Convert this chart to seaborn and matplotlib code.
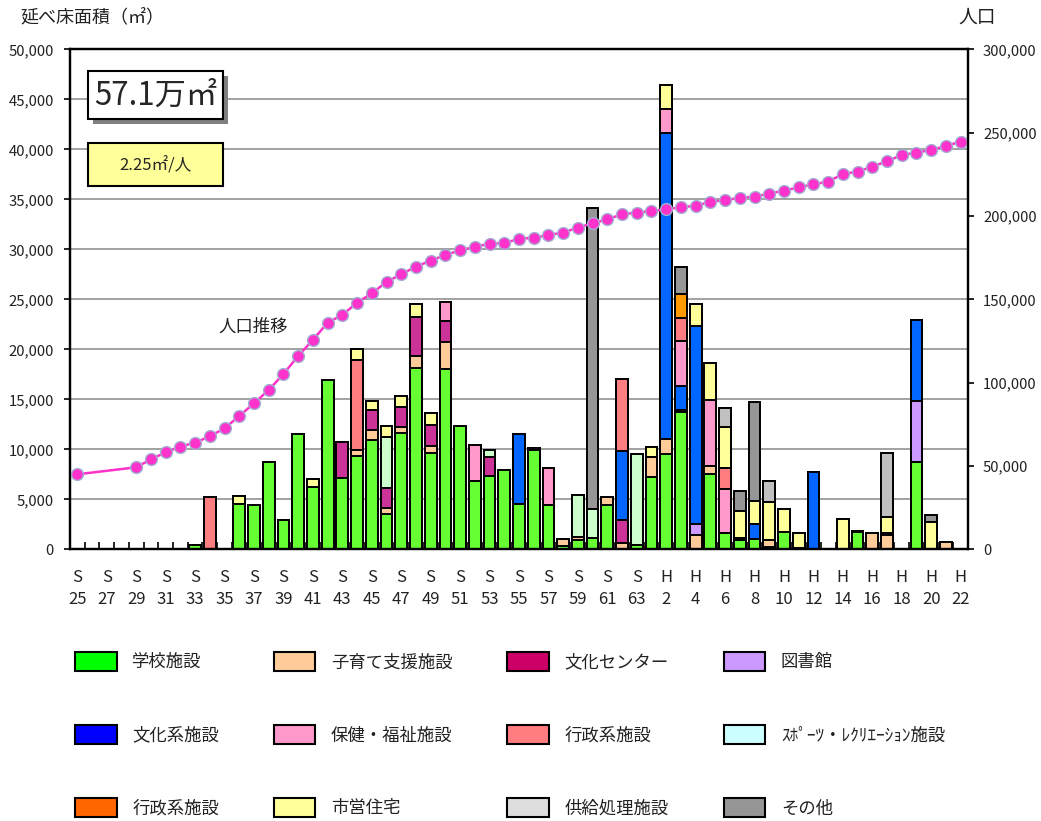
import numpy as np
import pandas as pd
import matplotlib
matplotlib.use("Agg")
import matplotlib.pyplot as plt
from matplotlib.patches import Patch, Rectangle
from matplotlib.ticker import FixedLocator, FuncFormatter
import seaborn as sns

# ---------------- data ----------------
years = [f"S{y}" for y in range(25, 64)] + ["H1"] + [f"H{y}" for y in range(2, 23)]

school = {"S33": 400, "S36": 4530, "S37": 4400, "S38": 8750, "S39": 2900, "S40": 11500,
          "S41": 6230, "S42": 16900, "S43": 7170, "S44": 9300, "S45": 10900, "S46": 3570,
          "S47": 11630, "S48": 18130, "S49": 9630, "S50": 18070, "S51": 12300, "S52": 6830,
          "S53": 7300, "S54": 7900, "S55": 4570, "S56": 9900, "S57": 4470, "S58": 300,
          "S59": 900, "S60": 1130, "S61": 4470, "S63": 470, "H1": 7230, "H2": 9500,
          "H3": 13730, "H5": 7570, "H6": 1630, "H7": 900, "H8": 1070, "H9": 200,
          "H10": 1730, "H11": 170, "H15": 1730, "H19": 8730}
childcare = {"S44": 600, "S45": 1000, "S46": 600, "S47": 600, "S48": 1200, "S49": 670,
             "S50": 2660, "S58": 770, "S59": 330, "S61": 760, "S62": 670, "H1": 1970,
             "H2": 1530, "H4": 1400, "H5": 730, "H9": 770, "H16": 1630, "H17": 1470, "H21": 700}
culture_center = {"S43": 3530, "S45": 2000, "S46": 1960, "S47": 2000, "S48": 3900, "S49": 2100,
                  "S50": 2070, "S53": 1900, "S56": 250, "S62": 2230, "H3": 240, "H7": 200,
                  "H15": 100, "H17": 130}
library = {"H4": 1170, "H19": 6100}
culture = {"S55": 6930, "S62": 6930, "H2": 30600, "H3": 2330, "H4": 19730, "H8": 1500,
           "H12": 7730, "H19": 8140}
welfare = {"S50": 1930, "S52": 3640, "S57": 3660, "H2": 2440, "H3": 4530, "H5": 6600, "H6": 4440}
admin = {"S34": 5200, "S44": 9000, "S62": 7240, "H3": 2340, "H6": 2060}
sports = {"S46": 5100, "S53": 700, "S59": 4170, "S60": 2940, "S63": 9100}
admin2 = {"H3": 2330}
housing = {"S36": 800, "S41": 800, "S44": 1170, "S45": 930, "S46": 1100, "S47": 1100,
           "S48": 1270, "S49": 1230, "H1": 1050, "H2": 2330, "H4": 2200, "H5": 3730,
           "H6": 4100, "H7": 2700, "H8": 2260, "H9": 3760, "H10": 2340, "H11": 1460,
           "H14": 3070, "H17": 1630, "H20": 2730}
supply = {"H6": 1900, "H9": 2070, "H17": 6400}
other = {"S60": 30060, "H3": 2730, "H7": 2030, "H8": 9900, "H20": 670}

population = {"S25": 45000, "S29": 49200, "S30": 54000, "S31": 58200, "S32": 61600,
              "S33": 64000, "S34": 67800, "S35": 72600, "S36": 80000, "S37": 87600,
              "S38": 95600, "S39": 105200, "S40": 116000, "S41": 125600, "S42": 136000,
              "S43": 140600, "S44": 148000, "S45": 153600, "S46": 160400, "S47": 165000,
              "S48": 169600, "S49": 173200, "S50": 176600, "S51": 179400, "S52": 181400,
              "S53": 183400, "S54": 183600, "S55": 186400, "S56": 186800, "S57": 188600,
              "S58": 190000, "S59": 193000, "S60": 195600, "S61": 198000, "S62": 201000,
              "S63": 202000, "H1": 203000, "H2": 204000, "H3": 205200, "H4": 206200,
              "H5": 208400, "H6": 209600, "H7": 210800, "H8": 211600, "H9": 213400,
              "H10": 215200, "H11": 217200, "H12": 219000, "H13": 220600, "H14": 225200,
              "H15": 226600, "H16": 229600, "H17": 232800, "H18": 236600, "H19": 238000,
              "H20": 239600, "H21": 242000, "H22": 244600}

series_names = ["学校施設", "子育て支援施設", "文化センター", "図書館", "文化系施設", "保健・福祉施設",
                "行政系施設", "ｽﾎﾟｰﾂ・ﾚｸﾘｴｰｼｮﾝ施設", "行政系施設 ", "市営住宅", "供給処理施設", "その他"]
series_data = [school, childcare, culture_center, library, culture, welfare,
               admin, sports, admin2, housing, supply, other]
bar_colors = ["#66FF33", "#FFCC99", "#CC3399", "#CC99FF", "#0066FF", "#FF99CC",
              "#FF7C80", "#CCFFCC", "#FF9900", "#FFFF99", "#C0C0C0", "#969696"]
legend_colors = ["#00FF00", "#FFCC99", "#CC0066", "#CC99FF", "#0000FF", "#FF99CC",
                 "#FF7C80", "#CCFFFF", "#FF6600", "#FFFF99", "#DDDDDD", "#969696"]

# ---------------- figure ----------------
sns.set_theme(style="white")
plt.rcParams["font.family"] = ["Noto Sans CJK JP", "DejaVu Sans"]

W, H = 1041, 821
TXT = "#222222"
fig = plt.figure(figsize=(W / 100, H / 100), dpi=100)
ax = fig.add_axes([70 / W, 1 - 549.3 / H, (968 - 70) / W, (549.3 - 49.3) / H])

df = pd.DataFrame({n: pd.Series(d) for n, d in zip(series_names, series_data)})
df = df.reindex(years).fillna(0)
cum = df.cumsum(axis=1)

for name, col in reversed(list(zip(series_names, bar_colors))):
    sns.barplot(x=years, y=cum[name].values, order=years, color=col, saturation=1,
                edgecolor="black", linewidth=1.4, width=0.8, errorbar=None, ax=ax)

ax.set_xlim(-0.5, len(years) - 0.5)
ax.set_ylim(0, 50000)
ax.set_yticks(np.arange(0, 50001, 5000))
ax.yaxis.set_major_formatter(FuncFormatter(lambda v, p: f"{int(v):,}"))
ax.grid(axis="y", color="#9A9A9A", linewidth=1.3)
ax.grid(axis="x", visible=False)
ax.set_axisbelow(True)
ax.set_xlabel("")
ax.set_ylabel("")
for s in ax.spines.values():
    s.set_color("black")
    s.set_linewidth(1.6)

tick_pos = list(range(0, len(years), 2))
tick_lab = [f"{years[i][0]}\n{years[i][1:]}" for i in tick_pos]
ax.set_xticks(tick_pos)
ax.set_xticklabels(tick_lab, fontsize=12, linespacing=1.4, color=TXT)
ax.xaxis.set_minor_locator(FixedLocator(np.arange(0.5, len(years) - 1, 1)))
ax.tick_params(axis="x", which="major", length=0, pad=14)
ax.tick_params(axis="x", which="minor", direction="in", length=5, width=1.2, color="black", bottom=True)
ax.tick_params(axis="y", which="major", labelsize=12, labelcolor=TXT, length=4,
               width=1.2, color="black", left=True, pad=9)

# population line on right axis
ax2 = ax.twinx()
pop_pos = [years.index(k) for k in population]
pop_val = list(population.values())
sns.lineplot(x=pop_pos, y=pop_val, ax=ax2, color="#FF33CC", linewidth=1.8, marker="o",
             markersize=8.5, markerfacecolor="#FF33CC", markeredgecolor="#A0AFD0",
             markeredgewidth=1.0)
ax2.set_ylim(0, 300000)
ax2.set_yticks(np.arange(0, 300001, 50000))
ax2.yaxis.set_major_formatter(FuncFormatter(lambda v, p: f"{int(v):,}"))
ax2.tick_params(axis="y", which="major", labelsize=12, labelcolor=TXT, length=4,
                width=1.2, color="black", right=True, pad=7)
ax2.grid(False)
ax2.set_xlim(-0.5, len(years) - 0.5)
for s in ax2.spines.values():
    s.set_color("black")
    s.set_linewidth(1.6)

# fit y tick label size / position to the reference layout (measured in pixels)
fig.canvas.draw()
rend = fig.canvas.get_renderer()
lab_r = [t for t in ax2.get_yticklabels() if t.get_text() == "300,000"][0]
size = 12 * 54.0 / lab_r.get_window_extent(rend).width
ax.tick_params(axis="y", labelsize=size)
ax2.tick_params(axis="y", labelsize=size)
fig.canvas.draw()
lab_l = [t for t in ax.get_yticklabels() if t.get_text() == "50,000"][0]
lab_r = [t for t in ax2.get_yticklabels() if t.get_text() == "300,000"][0]
x1_l = lab_l.get_window_extent(rend).x1
x0_r = lab_r.get_window_extent(rend).x0
ax.tick_params(axis="y", pad=max(1, 9 + (x1_l - 54) * 0.72))
ax2.tick_params(axis="y", pad=max(1, 7 + (983 - x0_r) * 0.72))

# texts
fig.text(20 / W, 1 - 17 / H, "延べ床面積（㎡）", ha="left", va="center", fontsize=13, color=TXT)
fig.text(958 / W, 1 - 17 / H, "人口", ha="left", va="center", fontsize=13.5, color=TXT)
fig.text(253 / W, 1 - 327 / H, "人口推移", ha="center", va="center", fontsize=12.5, color=TXT)


def px_rect(x0, y0, x1, y1, **kw):
    r = Rectangle((x0 / W, 1 - y1 / H), (x1 - x0) / W, (y1 - y0) / H,
                  transform=fig.transFigure, **kw)
    fig.add_artist(r)


px_rect(93, 76, 228, 124, facecolor="#808080", edgecolor="none", zorder=5)
px_rect(88, 71, 223, 119, facecolor="white", edgecolor="black", linewidth=1.5, zorder=6)
fig.text(155.5 / W, 1 - 96 / H, "57.1万㎡", ha="center", va="center", fontsize=22.5, zorder=7)
px_rect(88, 143, 223, 186, facecolor="#FFFF99", edgecolor="black", linewidth=1.5, zorder=6)
fig.text(155.5 / W, 1 - 166 / H, "2.25㎡/人", ha="center", va="center", fontsize=12, zorder=7)

# legend (row-major display -> column-major order for matplotlib)
handles = [Patch(facecolor=c, edgecolor="black", linewidth=1.5) for c in legend_colors]
ncol, nrow = 4, 3
order = [r * ncol + c for c in range(ncol) for r in range(nrow)]
leg = fig.legend([handles[i] for i in order], [series_names[i].strip() for i in order],
                 ncol=ncol, loc="upper left", bbox_to_anchor=(68 / W, 1 - 645 / H),
                 frameon=False, fontsize=12.5, handlelength=2.4, handleheight=1.3,
                 handletextpad=0.9, columnspacing=3.15, labelspacing=3.1, borderaxespad=0)
for t in leg.get_texts():
    t.set_color(TXT)

fig.savefig("out.png", dpi=100)
